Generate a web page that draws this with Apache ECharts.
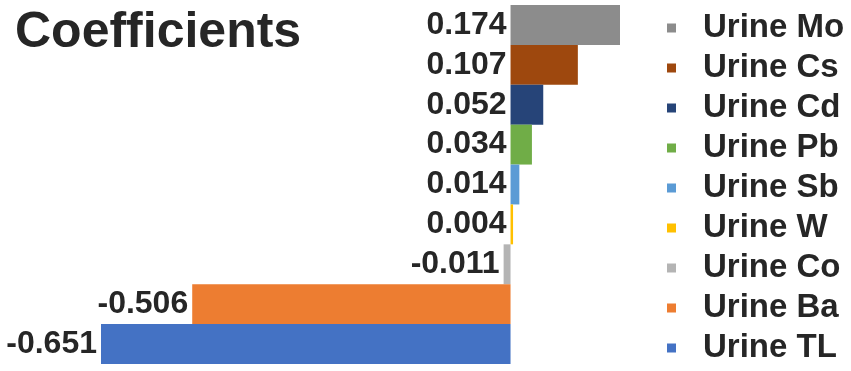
<!DOCTYPE html>
<html>
<head>
<meta charset="utf-8">
<script src="https://cdn.jsdelivr.net/npm/echarts@6/dist/echarts.min.js"></script>
<style>html,body{margin:0;padding:0;background:#fff;}#c{width:851px;height:371px;}</style>
</head>
<body>
<div id="c"></div>
<script>
const categories = ['Urine Mo','Urine Cs','Urine Cd','Urine Pb','Urine Sb','Urine W','Urine Co','Urine Ba','Urine TL'];
const values = [0.174, 0.107, 0.052, 0.034, 0.014, 0.004, -0.011, -0.506, -0.651];
const colors = ['#8c8c8c','#9e480e','#264478','#70ad47','#5b9bd5','#ffc000','#b4b4b4','#ed7d31','#4472c4'];
const titleText = 'Coefficients';

const series = categories.map((name, i) => ({
  name: name,
  type: 'bar',
  stack: 'all',
  barCategoryGap: '0%',
  itemStyle: { color: colors[i] },
  label: {
    show: true,
    position: 'left',
    distance: 4,
    formatter: p => p.value.toFixed(3),
    fontFamily: 'Liberation Sans, Arial, sans-serif',
    fontWeight: 'bold',
    fontSize: 32,
    color: '#262626'
  },
  data: categories.map((c, j) => j === i ? values[i] : '-')
}));

const chart = echarts.init(document.getElementById('c'));
chart.setOption({
  animation: false,
  title: {
    text: titleText,
    left: 10, top: 3,
    textStyle: { fontFamily: 'Liberation Sans, Arial, sans-serif', fontWeight: 'bold', fontSize: 50, color: '#262626' }
  },
  legend: {
    orient: 'vertical',
    left: 667, top: 8,
    padding: 0,
    itemGap: 0,
    itemWidth: 9, itemHeight: 9,
    icon: 'rect',
    data: categories,
    textStyle: { fontFamily: 'Liberation Sans, Arial, sans-serif', fontWeight: 'bold', fontSize: 33, color: '#262626', lineHeight: 40, padding: [0,0,0,22] }
  },
  grid: { left: 101, right: 231, top: 5, bottom: 7, containLabel: false },
  xAxis: { type: 'value', min: -0.651, max: 0.174, show: false },
  yAxis: { type: 'category', data: categories, inverse: true, show: false },
  series: series
});
</script>
</body>
</html>
